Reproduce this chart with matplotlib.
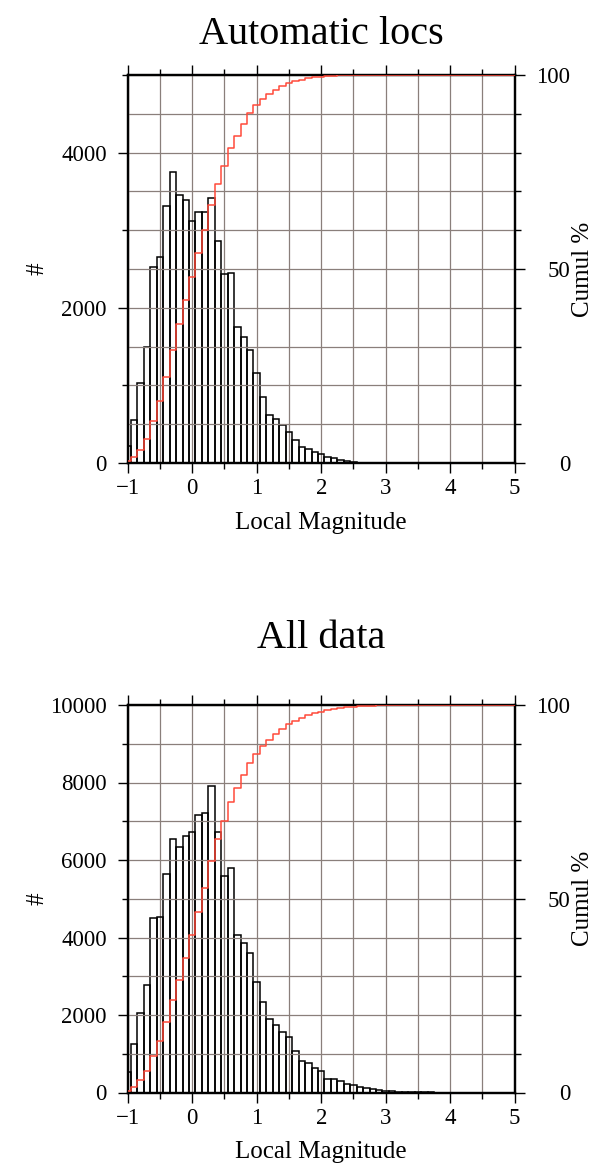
import numpy as np
import matplotlib.pyplot as plt
from matplotlib.ticker import MultipleLocator

plt.rcParams['font.family'] = ['Liberation Serif', 'DejaVu Serif']

# histogram bins: 0.1 wide, first bin centred on -1.0
first_bin = -1.0
bin_width = 0.1

auto_counts = [220, 550, 1030, 1500, 2520, 2650, 3310, 3750, 3460, 3390,
               3120, 3230, 3230, 3410, 2860, 2440, 2450, 1750, 1620, 1450,
               1160, 850, 620, 570, 490, 400, 290, 210, 180, 140,
               110, 75, 65, 40, 20, 10, 5, 3]
all_counts = [520, 1250, 2040, 2770, 4510, 4520, 5630, 6550, 6330, 6630,
              6720, 7170, 7210, 7920, 6710, 5590, 5790, 4070, 3870, 3610,
              2840, 2330, 1890, 1740, 1570, 1420, 1070, 820, 770, 640,
              550, 360, 360, 300, 215, 190, 150, 105, 85, 60,
              45, 35, 25, 17, 12, 8, 4, 2]

W, H = 608, 1167
GRID = '#8a7f7b'
RED = '#ff4a3a'


def px(x0, y0, x1, y1):
    # pixel box (top-left origin) -> figure rect
    return [x0 / W, 1 - y1 / H, (x1 - x0) / W, (y1 - y0) / H]


def panel(fig, box, counts, ymax, ymajor, yminor, title, title_base, xlab_base):
    ax = fig.add_axes(px(*box))
    centers = first_bin + bin_width * np.arange(len(counts))
    ax.bar(centers, counts, width=bin_width, fill=False, edgecolor='black',
           linewidth=1.1, zorder=3)
    ax.set_xlim(-1, 5)
    ax.set_ylim(0, ymax)
    ax.xaxis.set_major_locator(MultipleLocator(1))
    ax.xaxis.set_minor_locator(MultipleLocator(0.5))
    ax.yaxis.set_major_locator(MultipleLocator(ymajor))
    ax.yaxis.set_minor_locator(MultipleLocator(yminor))
    ax.grid(True, which='both', axis='x', color=GRID, linewidth=0.9)
    ax.tick_params(which='both', direction='out', top=True, right=False,
                   labelsize=16.5, width=1.0, color='black')
    ax.tick_params(which='major', length=7)
    ax.tick_params(which='minor', length=4)
    ax.tick_params(axis='x', pad=4)
    ax.tick_params(axis='y', pad=8)
    for s in ax.spines.values():
        s.set_linewidth(1.6)

    # cumulative percentage on the right axis
    ax2 = ax.twinx()
    cum = np.cumsum(counts) / np.sum(counts) * 100
    xs = np.append(centers - bin_width / 2, 5)
    ys = np.append(cum, 100)
    ax2.step(xs, ys, where='post', color=RED, linewidth=1.1, zorder=4)
    ax2.set_ylim(0, 100)
    ax2.yaxis.set_major_locator(MultipleLocator(50))
    ax2.yaxis.set_minor_locator(MultipleLocator(10))
    ax2.grid(True, which='both', axis='y', color=GRID, linewidth=0.9)
    ax2.tick_params(which='both', direction='out', labelsize=16.5, width=1.0)
    ax2.tick_params(which='major', length=7, pad=33)
    ax2.tick_params(which='minor', length=4)
    for lbl in ax2.get_yticklabels():
        lbl.set_horizontalalignment('right')
    for s in ax2.spines.values():
        s.set_linewidth(1.6)

    x0, y0, x1, y1 = box
    cx = (x0 + x1) / 2
    cy = (y0 + y1) / 2
    fig.text(cx / W, 1 - title_base / H, title, fontsize=29,
             ha='center', va='baseline')
    fig.text(cx / W, 1 - xlab_base / H, 'Local Magnitude', fontsize=18,
             ha='center', va='baseline')
    fig.text(38 / W, 1 - cy / H, '#', fontsize=18, rotation=90,
             ha='center', va='center')
    fig.text(583 / W, 1 - cy / H, 'Cumul %', fontsize=18, rotation=90,
             ha='center', va='center')
    return ax, ax2


fig = plt.figure(figsize=(W / 100, H / 100), dpi=100)
panel(fig, (127.7, 75, 514.7, 463), auto_counts, 5000, 2000, 1000,
      'Automatic locs', 44, 529)
panel(fig, (127.7, 705, 514.7, 1092.5), all_counts, 10000, 2000, 1000,
      'All data', 648, 1158)

plt.savefig('out.png', dpi=100)
